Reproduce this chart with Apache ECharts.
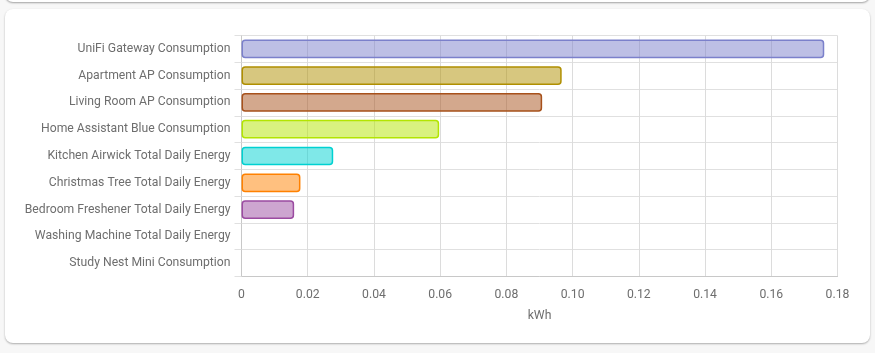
<!DOCTYPE html>
<html>
<head>
<meta charset="utf-8">
<script src="https://cdn.jsdelivr.net/npm/echarts@6/dist/echarts.min.js"></script>
<style>
  html, body { margin: 0; padding: 0; background: #f7f7f7; width: 875px; height: 353px; overflow: hidden; }
  .prev { position: absolute; left: 5px; top: -20px; width: 865px; height: 22px; background: #fff; border-radius: 8px; box-shadow: 0 1px 2px rgba(0,0,0,0.35); }
  .card { position: absolute; left: 5px; top: 9px; width: 865px; height: 334px; background: #fff; border-radius: 8px; box-shadow: 0 1px 2px rgba(0,0,0,0.3); }
  #main { position: absolute; left: 0; top: 0; width: 875px; height: 353px; }
</style>
</head>
<body>
<div class="prev"></div>
<div class="card"></div>
<div id="main"></div>
<script>
// 数据
const categories = [
  'UniFi Gateway Consumption',
  'Apartment AP Consumption',
  'Living Room AP Consumption',
  'Home Assistant Blue Consumption',
  'Kitchen Airwick Total Daily Energy',
  'Christmas Tree Total Daily Energy',
  'Bedroom Freshener Total Daily Energy',
  'Washing Machine Total Daily Energy',
  'Study Nest Mini Consumption'
];
const values = [0.176, 0.0967, 0.0908, 0.0597, 0.0277, 0.0178, 0.0159, 0, 0];
const colors = ['#7b80cb', '#b08f00', '#a7511b', '#b3e500', '#00d1d1', '#ff8100', '#9b4ba1', '#7b80cb', '#7b80cb'];
const xTicks = [0, 0.02, 0.04, 0.06, 0.08, 0.10, 0.12, 0.14, 0.16, 0.18];

const myChart = echarts.init(document.getElementById('main'));

const barData = values.map((v, i) => ({
  value: v,
  itemStyle: {
    color: echarts.color.modifyAlpha(colors[i], 0.5),
    borderColor: colors[i],
    borderWidth: v > 0 ? 1.5 : 0,
    borderRadius: 3
  }
}));

myChart.setOption({
  animation: false,
  textStyle: { fontFamily: 'Roboto, sans-serif' },
  grid: { left: 241.5, right: 37.5, top: 35.5, bottom: 76.5 },
  xAxis: {
    type: 'value',
    min: 0,
    max: 0.18,
    interval: 0.02,
    name: 'kWh',
    nameLocation: 'middle',
    nameGap: 33,
    nameTextStyle: { color: '#6e6e6e', fontSize: 12.2 },
    axisLine: { show: true, lineStyle: { color: '#c8c8c8' } },
    axisTick: { show: false },
    axisLabel: {
      color: '#6e6e6e', fontSize: 12.2, margin: 12,
      formatter: (v) => {
        const t = xTicks.find((x) => Math.abs(x - v) < 1e-9);
        return t === 0 ? '0' : v.toFixed(2);
      }
    },
    splitLine: { show: true, lineStyle: { color: '#dcdcdc' } }
  },
  yAxis: {
    type: 'category',
    data: categories,
    inverse: true,
    axisLine: { show: true, lineStyle: { color: '#c8c8c8' } },
    axisTick: { show: true, length: 7, lineStyle: { color: '#e0e0e0' } },
    axisLabel: { color: '#6e6e6e', fontSize: 12.2, margin: 11 },
    splitLine: { show: true, lineStyle: { color: '#e0e0e0' } }
  },
  series: [
    {
      type: 'bar',
      data: barData,
      barCategoryGap: '30%'
    }
  ]
});
</script>
</body>
</html>
